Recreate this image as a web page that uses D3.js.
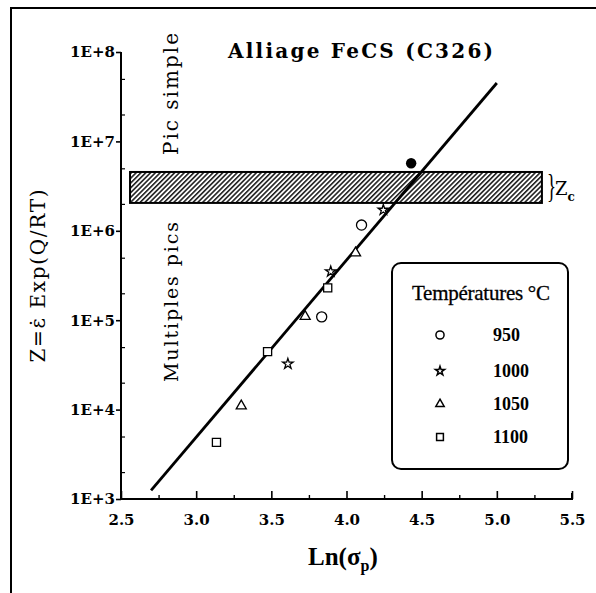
<!DOCTYPE html>
<html><head><meta charset="utf-8">
<script src="https://cdn.jsdelivr.net/npm/d3@7"></script>
<style>body{margin:0;background:#fff}svg{display:block}</style>
</head><body>
<svg id="c" width="596" height="593"></svg>
<script>
// ---- data ----
const xTicks = [2.5, 3.0, 3.5, 4.0, 4.5, 5.0, 5.5];
const xTickLabels = ["2.5", "3.0", "3.5", "4.0", "4.5", "5.0", "5.5"];
const yTicks = [1e3, 1e4, 1e5, 1e6, 1e7, 1e8];
const yTickLabels = ["1E+3", "1E+4", "1E+5", "1E+6", "1E+7", "1E+8"];
const temps = ["950", "1000", "1050", "1100"];
const series950x = [4.10, 3.835];
const series950y = [1.16e6, 1.09e5];
const series1000x = [4.245, 3.895, 3.61];
const series1000y = [1.71e6, 3.5e5, 3.25e4];
const series1050x = [4.06, 3.725, 3.30];
const series1050y = [5.65e5, 1.1e5, 1.1e4];
const series1100x = [3.875, 3.475, 3.135];
const series1100y = [2.3e5, 4.45e4, 4.3e3];
const filledX = [4.43];
const filledY = [5.7e6];
const fitX = [2.7, 5.0];
const fitY = [1.25e3, 4.5e7];
const bandX = [2.56, 5.30];
const bandY = [2.05e6, 4.55e6];

const svg = d3.select("#c");
const x = d3.scaleLinear().domain([2.5, 5.5]).range([121, 572]);
const y = d3.scaleLog().domain([1e3, 1e8]).range([499, 52]);

// outer frame (top + left)
svg.append("path").attr("d", "M11,593 L11,8 L596,8")
  .attr("fill", "none").attr("stroke", "#000").attr("stroke-width", 2);

// hatch pattern
const defs = svg.append("defs");
const pat = defs.append("pattern").attr("id", "hatch").attr("patternUnits", "userSpaceOnUse")
  .attr("width", 3.4).attr("height", 3.4).attr("patternTransform", "rotate(45)");
pat.append("rect").attr("width", 3.4).attr("height", 3.4).attr("fill", "#fff");
pat.append("line").attr("x1", 0.8).attr("y1", 0).attr("x2", 0.8).attr("y2", 3.4)
  .attr("stroke", "#000").attr("stroke-width", 1.4);

// band
svg.append("rect")
  .attr("x", x(bandX[0])).attr("y", y(bandY[1]))
  .attr("width", x(bandX[1]) - x(bandX[0])).attr("height", y(bandY[0]) - y(bandY[1]))
  .attr("fill", "url(#hatch)").attr("stroke", "#000").attr("stroke-width", 2);

// Zc brace
const bandMid = (y(bandY[0]) + y(bandY[1])) / 2;
svg.append("text").attr("transform", `translate(${x(bandX[1]) + 5},${bandMid + 10}) scale(0.55,1)`)
  .attr("font-family", "Liberation Serif").attr("font-size", 34).text("}");
const zc = svg.append("text").attr("x", x(bandX[1]) + 13).attr("y", bandMid + 8)
  .attr("font-family", "DejaVu Serif").attr("font-size", 18).text("Z");
zc.append("tspan").attr("dy", 6).attr("font-size", 12).attr("font-weight", "bold").text("c");

// axes
const xAxis = d3.axisBottom(x).tickValues(xTicks).tickSize(-8).tickPadding(15)
  .tickFormat((d, i) => xTickLabels[i]);
const gx = svg.append("g").attr("transform", "translate(0,499)").call(xAxis);
gx.select(".domain").attr("stroke-width", 2).attr("d", "M121,0H572V-6");
gx.selectAll(".tick line").attr("stroke-width", 1.6);
gx.selectAll("text").attr("font-family", "DejaVu Serif").attr("font-weight", "bold")
  .attr("font-size", 15).attr("fill", "#000");

const xMinor = d3.axisBottom(x).tickValues([2.75, 3.25, 3.75, 4.25, 4.75, 5.25]).tickSize(-4).tickFormat("");
const gxm = svg.append("g").attr("transform", "translate(0,499)").call(xMinor);
gxm.select(".domain").remove();
gxm.selectAll(".tick line").attr("stroke-width", 1.4);

const yAxis = d3.axisLeft(y).tickValues(yTicks).tickSize(5).tickPadding(1)
  .tickFormat((d, i) => yTickLabels[i]);
const gy = svg.append("g").attr("transform", "translate(121,0)").call(yAxis);
gy.select(".domain").attr("stroke-width", 2).attr("d", "M0,499V52");
gy.selectAll(".tick line").attr("stroke-width", 1.6);
gy.selectAll("text").attr("font-family", "DejaVu Serif").attr("font-weight", "bold")
  .attr("font-size", 15).attr("fill", "#000");

const minorY = [];
for (let e = 3; e < 8; e++) { [2, 5].forEach(m => minorY.push(m * Math.pow(10, e))); }
const yMinor = d3.axisLeft(y).tickValues(minorY).tickSize(-4).tickFormat("");
const gym = svg.append("g").attr("transform", "translate(121,0)").call(yMinor);
gym.select(".domain").remove();
gym.selectAll(".tick line").attr("stroke-width", 1.2);

// fit line
svg.append("path")
  .attr("d", d3.line().x(d => x(d[0])).y(d => y(d[1]))(d3.zip(fitX, fitY)))
  .attr("fill", "none").attr("stroke", "#000").attr("stroke-width", 2.8);

// markers
const symbols = [d3.symbolCircle, d3.symbolStar, d3.symbolTriangle, d3.symbolSquare];
const sizes = [80, 34, 44, 66];
const lsizes = [52, 26, 30, 46];
const allX = [series950x, series1000x, series1050x, series1100x];
const allY = [series950y, series1000y, series1050y, series1100y];
allX.forEach((xs, k) => {
  svg.append("g").selectAll("path").data(d3.zip(xs, allY[k])).join("path")
    .attr("transform", d => `translate(${x(d[0])},${y(d[1])})`)
    .attr("d", d3.symbol(symbols[k], sizes[k]))
    .attr("fill", "#fff").attr("stroke", "#000").attr("stroke-width", 1.3);
});
svg.append("g").selectAll("circle").data(d3.zip(filledX, filledY)).join("circle")
  .attr("cx", d => x(d[0])).attr("cy", d => y(d[1])).attr("r", 5.2).attr("fill", "#000");

// texts
svg.append("text").attr("x", 228).attr("y", 58)
  .attr("font-family", "DejaVu Serif").attr("font-weight", "bold").attr("font-size", 20)
  .attr("textLength", 265).text("Alliage FeCS (C326)");

svg.append("text").attr("transform", "translate(178,94) rotate(-90)").attr("text-anchor", "middle")
  .attr("font-family", "DejaVu Serif").attr("font-size", 20).attr("textLength", 122)
  .text("Pic simple");
svg.append("text").attr("transform", "translate(178,302) rotate(-90)").attr("text-anchor", "middle")
  .attr("font-family", "DejaVu Serif").attr("font-size", 19).attr("textLength", 160)
  .text("Multiples pics");

svg.append("text").attr("transform", "translate(45,276) rotate(-90)").attr("text-anchor", "middle")
  .attr("font-family", "DejaVu Serif").attr("font-size", 20).attr("textLength", 173)
  .text("Z=\u03B5\u0307 Exp(Q/RT)");

const xl = svg.append("text").attr("x", 308).attr("y", 565)
  .attr("font-family", "Liberation Serif").attr("font-weight", "bold").attr("font-size", 25);
xl.append("tspan").text("Ln(\u03C3");
xl.append("tspan").attr("dy", 6).attr("font-size", 16).text("p");
xl.append("tspan").attr("dy", -6).text(")");

// legend
svg.append("rect").attr("x", 392).attr("y", 263).attr("width", 176).attr("height", 206)
  .attr("rx", 9).attr("fill", "#fff").attr("stroke", "#000").attr("stroke-width", 2);
svg.append("text").attr("x", 481).attr("y", 300).attr("text-anchor", "middle")
  .attr("font-family", "Liberation Serif").attr("font-size", 21).attr("textLength", 138)
  .attr("stroke", "#000").attr("stroke-width", 0.3)
  .text("Températures °C");
const rowY = [335, 371, 404, 437];
temps.forEach((t, k) => {
  svg.append("path").attr("transform", `translate(440,${rowY[k]})`)
    .attr("d", d3.symbol(symbols[k], lsizes[k])).attr("fill", "#fff")
    .attr("stroke", "#000").attr("stroke-width", 1.5);
  svg.append("text").attr("x", 493).attr("y", rowY[k] + 6)
    .attr("font-family", "Liberation Serif").attr("font-weight", "bold").attr("font-size", 18)
    .text(t);
});
</script>
</body></html>
